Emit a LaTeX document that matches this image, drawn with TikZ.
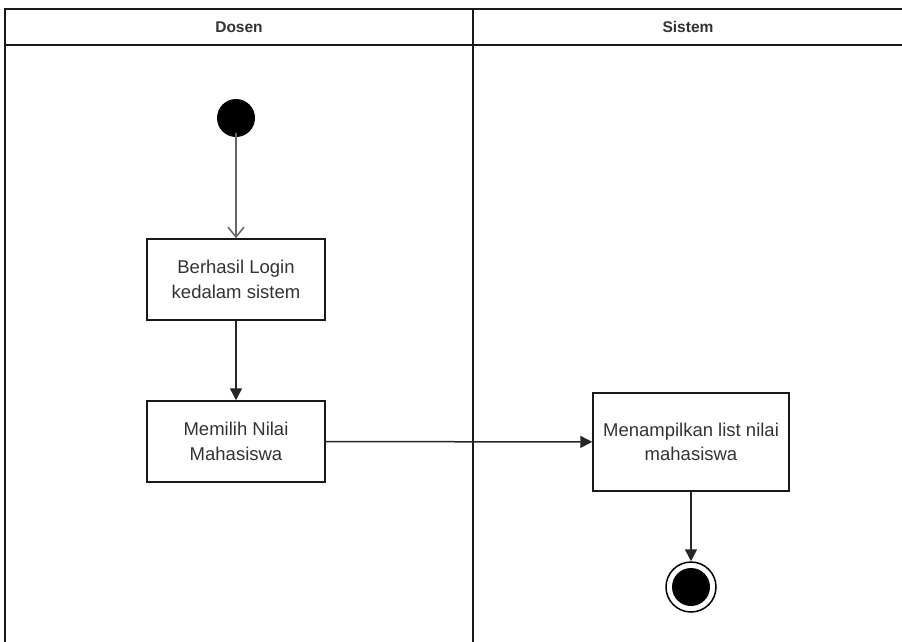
\documentclass[tikz,border=0pt]{standalone}
\usepackage{fontspec}
\setmainfont{Liberation Sans}
\usetikzlibrary{arrows.meta}
\definecolor{txt}{HTML}{333333}
\begin{document}
\begin{tikzpicture}[x=1pt,y=-1pt,
  lane/.style={draw=black!90,line width=1.5pt},
  act/.style={draw=black!90,line width=1.5pt,fill=white,minimum width=178pt,minimum height=81pt,align=center,text=txt,font=\fontsize{18.5}{24.5}\selectfont,inner sep=0pt},
  hdr/.style={font=\fontsize{15.5}{18}\selectfont\bfseries,text=txt},
  flow/.style={draw=black!85,line width=1.5pt,-{Triangle[length=12pt,width=12pt]}},
  openflow/.style={draw=black!60,line width=1.5pt,-{Straight Barb[length=10pt,width=16pt]}}]
\useasboundingbox (0,0) rectangle (902,641);
\fill[white] (0,0) rectangle (902,641);
% swimlanes
\draw[lane] (5,645) -- (5,9) -- (905,9);
\draw[lane] (5,45) -- (905,45);
\draw[lane] (473,9) -- (473,645);
\node[hdr] (h1) at (239,27) {Dosen};
\node[hdr] (h2) at (688,27) {Sistem};
% nodes
\node[circle,fill=black,minimum size=38pt,inner sep=0pt] (start) at (236,118) {};
\node[act] (a1) at (236,279.5) {Berhasil Login\\kedalam sistem};
\node[act] (a2) at (236,441.5) {Memilih Nilai\\Mahasiswa};
\node[act,minimum width=196pt,minimum height=98pt] (a3) at (691,442) {Menampilkan list nilai\\mahasiswa};
\node[circle,draw=black,line width=1.5pt,minimum size=50pt,inner sep=0pt] (end) at (691,587) {};
\node[circle,fill=black,minimum size=38pt,inner sep=0pt] (endin) at (end.center) {};
% connectors
\draw[openflow] (start.south) ++(0,4pt) coordinate (s0) -- (a1.north);
\draw[flow] (a1) -- (a2);
\draw[flow] (a2) -- (a3);
\draw[flow] (a3) -- (end);
\end{tikzpicture}
\end{document}
